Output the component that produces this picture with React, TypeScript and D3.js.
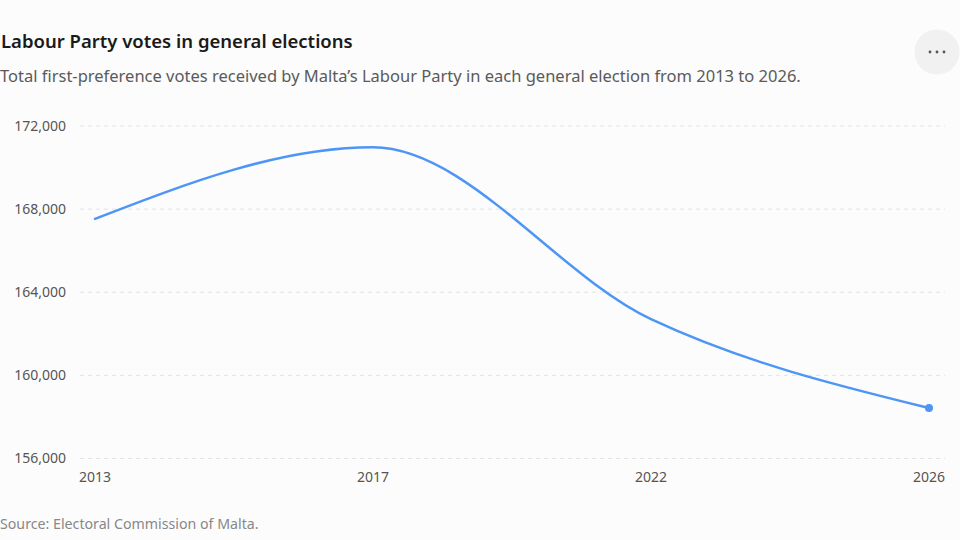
import React, { useEffect, useRef } from "react";
import * as d3 from "d3";

const years = ["2013", "2017", "2022", "2026"];
const votes = [167533, 170976, 162707, 158430];
const yTicks = [156000, 160000, 164000, 168000, 172000];

const title = "Labour Party votes in general elections";
const subtitle =
  "Total first-preference votes received by Malta\u2019s Labour Party in each general election from 2013 to 2026.";
const source = "Source: Electoral Commission of Malta.";

const width = 960;
const height = 540;
const font = "'Noto Sans', 'Open Sans', sans-serif";

const App: React.FC = () => {
  const svgRef = useRef<SVGSVGElement>(null);

  useEffect(() => {
    if (!svgRef.current) return;
    const svg = d3.select(svgRef.current);
    svg.selectAll("*").remove();

    svg.append("rect").attr("width", width).attr("height", height).attr("fill", "#fcfcfc");

    const x = d3.scalePoint<string>().domain(years).range([95, 929]);
    const y = d3.scaleLinear().domain([156000, 172000]).range([458.5, 126]);

    // gridlines
    svg
      .append("g")
      .selectAll("line")
      .data(yTicks)
      .join("line")
      .attr("x1", 80)
      .attr("x2", 945)
      .attr("y1", (d) => y(d))
      .attr("y2", (d) => y(d))
      .attr("stroke", "#e3e3e3")
      .attr("stroke-width", 1)
      .attr("stroke-dasharray", "4 4");

    // y labels
    svg
      .append("g")
      .selectAll("text")
      .data(yTicks)
      .join("text")
      .attr("x", 66)
      .attr("y", (d) => y(d))
      .attr("dy", "0.35em")
      .attr("text-anchor", "end")
      .attr("font-family", font)
      .attr("font-size", 14)
      .attr("fill", "#555")
      .text((d) => d3.format(",")(d));

    // x labels
    svg
      .append("g")
      .selectAll("text")
      .data(years)
      .join("text")
      .attr("x", (d) => x(d)!)
      .attr("y", 482)
      .attr("text-anchor", "middle")
      .attr("font-family", font)
      .attr("font-size", 14)
      .attr("fill", "#555")
      .text((d) => d);

    const pts = years.map((yr, i) => [x(yr)!, y(votes[i])] as [number, number]);
    const line = d3.line().curve(d3.curveMonotoneX);
    svg
      .append("path")
      .attr("d", line(pts))
      .attr("fill", "none")
      .attr("stroke", "#4e96f5")
      .attr("stroke-width", 2.5)
      .attr("stroke-linecap", "round");

    const last = pts[pts.length - 1];
    svg.append("circle").attr("cx", last[0]).attr("cy", last[1]).attr("r", 4).attr("fill", "#4e96f5");

    // header
    svg
      .append("text")
      .attr("x", 1)
      .attr("y", 48)
      .attr("font-family", font)
      .attr("font-size", 18.5)
      .attr("font-weight", 600)
      .attr("fill", "#1a1a1a")
      .text(title);
    svg
      .append("text")
      .attr("x", 0)
      .attr("y", 82)
      .attr("font-family", font)
      .attr("font-size", 16.5)
      .attr("fill", "#5a5a5a")
      .text(subtitle);
    svg
      .append("text")
      .attr("x", 0)
      .attr("y", 529)
      .attr("font-family", font)
      .attr("font-size", 14.2)
      .attr("fill", "#888")
      .text(source);

    // menu button
    const btn = svg.append("g").attr("transform", "translate(937,52)");
    btn.append("circle").attr("r", 22.5).attr("fill", "#f1f1f1");
    btn
      .selectAll("circle.dot")
      .data([-7, 0, 7])
      .join("circle")
      .attr("class", "dot")
      .attr("cx", (d) => d)
      .attr("cy", 0)
      .attr("r", 1.4)
      .attr("fill", "#555");
  }, []);

  return (
    <svg
      ref={svgRef}
      width={width}
      height={height}
      style={{ position: "absolute", left: 0, top: 0 }}
    />
  );
};

export default App;
